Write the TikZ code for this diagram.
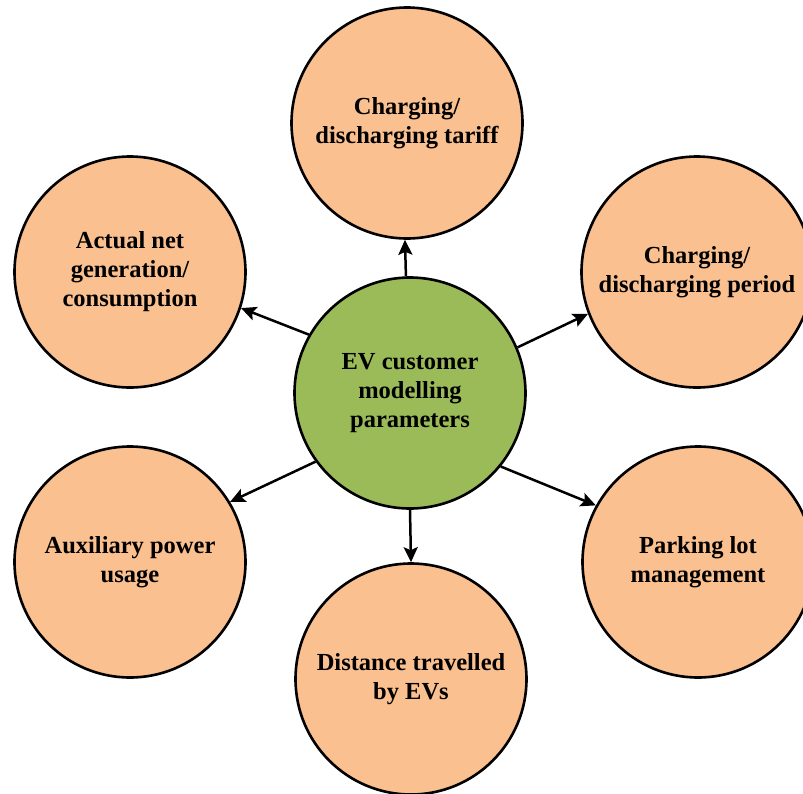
\documentclass[tikz,border=0pt]{standalone}
\usepackage{fontspec}
\setmainfont{Liberation Serif}
\usetikzlibrary{arrows.meta}
\definecolor{peach}{HTML}{FAC090}
\definecolor{olive}{HTML}{9BBB59}
\begin{document}
\begin{tikzpicture}[x=1pt,y=-1pt,
  outer/.style={circle,draw=black,line width=2.6pt,fill=peach,minimum size=231pt,inner sep=0pt,
    align=center,font=\fontsize{24.5}{29}\selectfont\bfseries},
  inner/.style={outer,fill=olive},
  conn/.style={line width=2.5pt,-{Stealth[length=15pt,width=14pt,inset=3pt]}}]
\useasboundingbox (0,0) rectangle (803,793);
\clip (0,0) rectangle (803,793);
\node[inner] (c) at (410,393) {EV customer\\modelling\\parameters};
\node[outer] (t) at (407,123) {Charging/\\discharging tariff};
\node[outer] (tr) at (697,272) {Charging/\\discharging period};
\node[outer] (tl) at (130,272) {Actual net\\generation/\\consumption};
\node[outer] (bl) at (130,562) {Auxiliary power\\usage};
\node[outer] (br) at (698,562) {Parking lot\\management};
\node[outer] (b) at (411,679) {Distance travelled\\by EVs};
\draw[conn] (c.92.5) -- (t.-91);
\draw[conn] (c.23) -- (tr.-159);
\draw[conn] (c.150) -- (tl.-18);
\draw[conn] (c.216) -- (bl.31);
\draw[conn] (c.-39) -- (br.151.5);
\draw[conn] (c.-90) -- (b.90.5);
\end{tikzpicture}
\end{document}
